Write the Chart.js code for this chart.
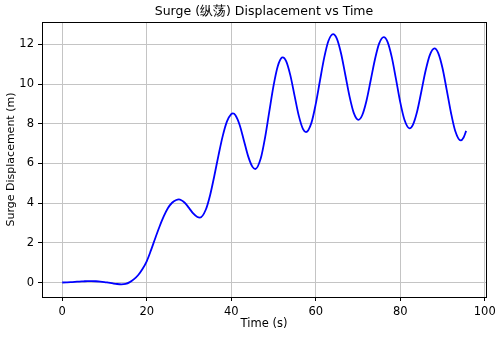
<!DOCTYPE html>
<html>
<head>
<meta charset="utf-8">
<script src="https://cdn.jsdelivr.net/npm/chart.js@4.4.1/dist/chart.umd.min.js"></script>
<style>
html,body{margin:0;padding:0;background:#fff;}
#wrap{width:500px;height:337px;position:relative;}
</style>
</head>
<body>
<div id="wrap"><canvas id="c" width="500" height="337"></canvas></div>
<script>
// Time (s)
const timeS = [0,1,2,3,4,5,6,6.9,8,9,10,11,12,13,14,15,16,17,18,19,20,21,22,23,24,25,26,27,27.6,29,30,31,32,32.6,34,35,36,37,38,39,40,40.4,41,42,43,44,45,45.7,47,48,49,50,51,52,52.2,53,54,55,56,57,57.7,59,60,61,62,63,64.1,65,66,67,68,69,70.1,71,72,73,74,75,76.1,77,78,79,80,81,82.2,83,84,85,86,87,88.1,89,90,91,92,93,94.3,95,95.6];
// Surge displacement (m)
const surgeM = [0,0.01,0.02,0.03,0.05,0.06,0.07,0.07,0.063,0.05,0.025,-0.01,-0.045,-0.075,-0.09,-0.07,0.02,0.17,0.38,0.68,1.07,1.62,2.22,2.8,3.32,3.74,4.02,4.16,4.19,4.02,3.76,3.48,3.30,3.27,3.68,4.40,5.37,6.42,7.39,8.12,8.49,8.52,8.43,7.94,7.16,6.37,5.84,5.72,6.26,7.29,8.60,9.90,10.89,11.34,11.35,11.16,10.44,9.41,8.40,7.73,7.58,8.06,8.99,10.17,11.32,12.17,12.52,12.29,11.54,10.47,9.38,8.55,8.20,8.43,9.15,10.18,11.23,12.04,12.37,12.13,11.36,10.25,9.09,8.20,7.77,7.95,8.62,9.63,10.67,11.46,11.80,11.56,10.81,9.71,8.57,7.65,7.16,7.31,7.64];
const xTicks = [0,20,40,60,80,100];
const yTicks = [0,2,4,6,8,10,12];
const titleText = 'Surge (纵荡) Displacement vs Time';

const FONT = "'DejaVu Sans', sans-serif";
const points = timeS.map((t,i)=>({x:t,y:surgeM[i]}));

const titlePlugin = {
  id:'mplTitle',
  afterDraw(chart){
    const {ctx, chartArea} = chart;
    ctx.save();
    ctx.font = "12.5px " + FONT;
    ctx.fillStyle = '#000';
    ctx.textAlign = 'center';
    ctx.textBaseline = 'middle';
    ctx.fillText(titleText, (chartArea.left+chartArea.right)/2, 12);
    ctx.restore();
  }
};

new Chart(document.getElementById('c'), {
  type:'line',
  data:{datasets:[{data:points,borderColor:'#0000ff',borderWidth:1.8,pointRadius:0,cubicInterpolationMode:'monotone',fill:false}]},
  options:{
    responsive:false,animation:false,
    layout:{padding:{top:22,right:14,left:0,bottom:0}},
    plugins:{legend:{display:false},tooltip:{enabled:false},title:{display:false}},
    scales:{
      x:{type:'linear',min:-4.78,max:100.3,
        afterBuildTicks(s){s.ticks = xTicks.map(v=>({value:v}));},
        afterFit(s){s.height=40;},
        grid:{color:'#c4c4c4',lineWidth:1,tickLength:4,tickColor:'#000',drawOnChartArea:true},
        border:{display:true,color:'#000',width:1},
        ticks:{color:'#000',font:{family:FONT,size:11.5},padding:4,maxRotation:0,autoSkip:false},
        title:{display:true,text:'Time (s)',color:'#000',font:{family:FONT,size:11.5},padding:{top:0,bottom:6}}
      },
      y:{type:'linear',min:-0.73,max:13.13,
        afterBuildTicks(s){s.ticks = yTicks.map(v=>({value:v}));},
        afterFit(s){s.width=42;},
        grid:{color:'#c4c4c4',lineWidth:1,tickLength:4,tickColor:'#000'},
        border:{display:true,color:'#000',width:1},
        ticks:{color:'#000',font:{family:FONT,size:11.5},padding:4},
        title:{display:true,text:'Surge Displacement (m)',color:'#000',font:{family:FONT,size:11},padding:{top:5,bottom:0}}
      }
    }
  },
  plugins:[titlePlugin,{
    id:'frame',
    afterDraw(chart){
      const {ctx, chartArea:a} = chart;
      ctx.save();ctx.strokeStyle='#000';ctx.lineWidth=1;
      ctx.strokeRect(Math.round(a.left)+0.5,Math.round(a.top)+0.5,Math.round(a.right-a.left),Math.round(a.bottom-a.top));
      ctx.restore();
    }
  }]
});
</script>
</body>
</html>
